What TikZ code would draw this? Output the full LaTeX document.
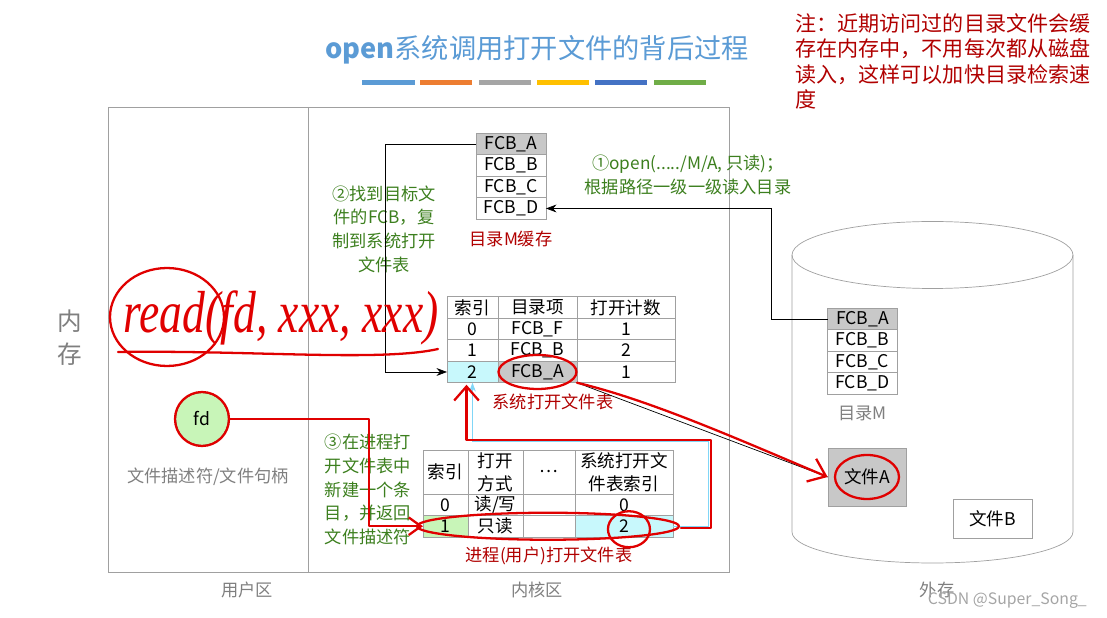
\documentclass[tikz,border=0pt]{standalone}
\usepackage{fontspec}
\usepackage{graphicx}
\setmainfont{Noto Sans CJK SC}
\newfontfamily\handfont{Liberation Serif}
\usepackage{tikz}
\usetikzlibrary{positioning,arrows.meta,calc}
\definecolor{titleblue}{HTML}{5B9BD5}
\definecolor{barorange}{HTML}{ED7D31}
\definecolor{bargray}{HTML}{A5A5A5}
\definecolor{baryellow}{HTML}{FFC000}
\definecolor{barblue}{HTML}{4472C4}
\definecolor{bargreen}{HTML}{70AD47}
\definecolor{notered}{HTML}{B00000}
\definecolor{stepgreen}{HTML}{3C7F1E}
\definecolor{framegray}{HTML}{A0A0A0}
\definecolor{labelgray}{HTML}{7F7F7F}
\definecolor{cellgray}{HTML}{C8C8C8}
\definecolor{cellcyan}{HTML}{C8F8FC}
\definecolor{cellgreen}{HTML}{C8F5B8}
\definecolor{inkred}{HTML}{E00000}
\newcommand{\tablefont}{\fontsize{10}{13}\selectfont}
\newcommand{\stepfont}{\fontsize{9.8}{13.5}\selectfont}
\newcommand{\titlefont}{\fontsize{15.5}{18}\selectfont}
\newcommand{\notefont}{\fontsize{12}{14.5}\selectfont}
\newcommand{\memfont}{\fontsize{14}{18.7}\selectfont}

\begin{document}
\begin{tikzpicture}[
  x=0.02cm, y=-0.02cm,
  cell/.style={draw=framegray, fill=white, minimum width=#1, minimum height=0.43cm,
    inner sep=0pt, outer sep=0pt, align=center, font=\tablefont},
  cell/.default=1.4cm,
  bar/.style={fill=#1, minimum width=1.06cm, minimum height=0.1cm, inner sep=0pt},
  greentext/.style={text=stepgreen, font=\stepfont, align=center},
  redlabel/.style={text=notered, font=\stepfont},
  graylabel/.style={text=labelgray, font=\stepfont},
  arrow/.style={-{Stealth[length=6pt]}, thin, color=black},
  ink/.style={draw=inkred, line width=1.3pt, line cap=round, line join=round}
]
\useasboundingbox (0,0) rectangle (1107,618);

% Title and colour bars
\node[font=\titlefont, text=titleblue] (title) at (537,50) {\textbf{open}系统调用打开文件的背后过程};
\node[bar=titleblue] (bar1) at (388.5,83) {};
\node[bar=barorange] (bar2) at (446,83) {};
\node[bar=bargray] (bar3) at (505,83) {};
\node[bar=baryellow] (bar4) at (563,83) {};
\node[bar=barblue] (bar5) at (621,83) {};
\node[bar=bargreen] (bar6) at (680,83) {};

% Note
\node[anchor=north west, inner sep=0pt, text=notered, font=\notefont, align=left] (note) at (795,13)
  {注：近期访问过的目录文件会缓\\存在内存中，不用每次都从磁盘\\读入，这样可以加快目录检索速\\度};

% Memory frame
\draw[framegray] (108,107) rectangle (729,572);
\draw[framegray] (308,107) -- (308,572);
\node[graylabel, font=\memfont, align=center] (mem) at (70,338) {内\\存};
\node[graylabel] (userzone) at (247,590) {用户区};
\node[graylabel] (kernelzone) at (537,590) {内核区};
\node[graylabel] (diskzone) at (937,590) {外存};
\node[text=labelgray!70, font=\fontsize{9}{10}\selectfont, anchor=east] (mark) at (1093,601) {CSDN @Super\_Song\_};

% Disk
\draw[framegray] (932.5,255) ellipse [x radius=2.81cm, y radius=0.67cm];
\draw[framegray] (792,255) -- (792,532) arc [start angle=180, end angle=360, x radius=2.81cm, y radius=0.62cm] -- (1073,255);

% Directory M cache
\node[cell, fill=cellgray] (mA) at (511,144) {FCB\_A};
\node[cell, below=0pt of mA] (mB) {FCB\_B};
\node[cell, below=0pt of mB] (mC) {FCB\_C};
\node[cell, below=0pt of mC] (mD) {FCB\_D};
\node[redlabel, below=3pt of mD] (mlabel) {目录M缓存};

% Directory M on disk
\node[cell, fill=cellgray] (dA) at (862.5,319) {FCB\_A};
\node[cell, below=0pt of dA] (dB) {FCB\_B};
\node[cell, below=0pt of dB] (dC) {FCB\_C};
\node[cell, below=0pt of dC] (dD) {FCB\_D};
\node[graylabel, below=3pt of dD] (dlabel) {目录M};
\node[draw=framegray, fill=cellgray, minimum width=1.56cm, minimum height=1.16cm, font=\tablefont] (fileA) at (867,477) {文件A};
\node[draw=framegray, fill=white, minimum width=1.58cm, minimum height=0.78cm, font=\tablefont] (fileB) at (992.5,518.5) {文件B};

% System open file table
\node[cell=1.02cm] (sh0) at (472.5,307.5) {索引};
\node[cell=1.58cm, right=0pt of sh0] (sh1) {目录项};
\node[cell=1.96cm, right=0pt of sh1] (sh2) {打开计数};
\node[cell=1.02cm, below=0pt of sh0] (s00) {0};
\node[cell=1.58cm, right=0pt of s00] (s01) {FCB\_F};
\node[cell=1.96cm, right=0pt of s01] (s02) {1};
\node[cell=1.02cm, below=0pt of s00] (s10) {1};
\node[cell=1.58cm, right=0pt of s10] (s11) {FCB\_B};
\node[cell=1.96cm, right=0pt of s11] (s12) {2};
\node[cell=1.02cm, fill=cellcyan, below=0pt of s10] (s20) {2};
\node[cell=1.58cm, fill=cellgray, right=0pt of s20] (s21) {FCB\_A};
\node[cell=1.96cm, right=0pt of s21] (s22) {1};
\node[redlabel] (slabel) at (553,402) {系统打开文件表};

% Process open file table
\node[cell=0.9cm, minimum height=0.88cm] (ph0) at (445.5,472) {索引};
\node[cell=1.1cm, minimum height=0.88cm, right=0pt of ph0] (ph1) {打开\\方式};
\node[cell=1.04cm, minimum height=0.88cm, right=0pt of ph1] (ph2) {…};
\node[cell=1.96cm, minimum height=0.88cm, right=0pt of ph2] (ph3) {系统打开文\\件表索引};
\node[cell=0.9cm, below=0pt of ph0] (p00) {0};
\node[cell=1.1cm, right=0pt of p00] (p01) {读/写};
\node[cell=1.04cm, right=0pt of p01] (p02) {};
\node[cell=1.96cm, right=0pt of p02] (p03) {0};
\node[cell=0.9cm, fill=cellgreen, below=0pt of p00] (p10) {1};
\node[cell=1.1cm, right=0pt of p10] (p11) {只读};
\node[cell=1.04cm, right=0pt of p11] (p12) {};
\node[cell=1.96cm, fill=cellcyan, right=0pt of p12] (p13) {2};
\node[redlabel] (plabel) at (549,556) {进程(用户)打开文件表};

% fd
\node[circle, draw, fill=cellgreen, minimum size=1.06cm, inner sep=0pt, font=\tablefont] (fd) at (202,419) {fd};
\node[graylabel] (fdlabel) at (208,477) {文件描述符/文件句柄};

% Steps
\node[greentext] (step1) at (688,175) {①open(...../M/A, 只读)；\\根据路径一级一级读入目录};
\node[greentext] (step2) at (384,229) {②找到目标文\\件的FCB，复\\制到系统打开\\文件表};
\node[greentext, align=left] (step3) at (368,489.5) {③在进程打\\开文件表中\\新建一个条\\目，并返回\\文件描述符};

% Arrows
\draw[arrow] (dA.west) -- ++(-56,0) |- (mD.east);
\draw[arrow] (mA.west) -- ++(-91,0) |- (s20.west);
\draw[cyan!50, thin, -{Stealth[length=5pt]}] (p13.east) -- ++(35,0) |- ($(s20.south)+(0,59)$) -- (s20.south);
\draw[thin] (s21.south east) -- (fileA.west);

% Red handwriting
\node[text=inkred, inner sep=0pt] (readcall) at (281,318)
  {\scalebox{1}[1.3]{\resizebox{6.3cm}{!}{\handfont\itshape read(fd, xxx, xxx)}}};
\draw[ink] (167,317) ellipse [x radius=1.14cm, y radius=0.98cm];
\draw[ink] (438,349) .. controls (380,362) and (250,350) .. (118,352);
\draw[ink] (fd.center) circle [radius=0.54cm];
\draw[ink, -{Straight Barb[length=7pt,width=10pt]}] (fd.east) -- ++(140,0) |- (p10.west);
\draw[ink] ($(p10.west)!0.5!(p13.east)$) ellipse [x radius=2.62cm, y radius=0.27cm];
\draw[ink] ($(p13.center)+(5,3)$) ellipse [x radius=0.42cm, y radius=0.36cm];
\draw[ink, -{Straight Barb[length=8pt,width=14pt]}] ($(p13.east)+(8,2)$) -- ++(30,0) |- ($(s20.south)+(-6,57)$) -- ($(s20.south)+(-6,2)$);
\draw[ink] (s21.center) ellipse [x radius=0.78cm, y radius=0.34cm];
\draw[ink, -{Straight Barb[length=9pt,width=14pt]}] (s21.south east) .. controls (650,400) and (740,440) .. (fileA.west);
\draw[ink] (fileA.center) ellipse [x radius=0.64cm, y radius=0.44cm];

\end{tikzpicture}
\end{document}
